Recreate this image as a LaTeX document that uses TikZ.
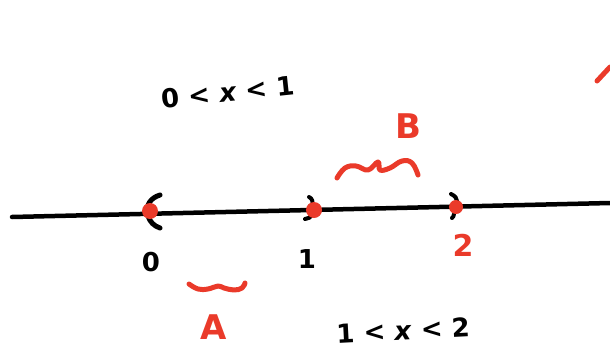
\documentclass[tikz,border=0pt]{standalone}
\usepackage{fontspec}
\setmainfont{DejaVu Sans}
\begin{document}
\begin{tikzpicture}[x=1pt,y=-1pt,
  pen/.style={line width=5pt,line cap=round,line join=round},
  ink/.style={pen,black},
  redink/.style={pen,hred},
  hand/.style={inner sep=0pt,font=\bfseries},
  dotmark/.style={circle,fill=hred,inner sep=0pt,minimum size=16pt}]
\definecolor{hred}{RGB}{234,58,42}
\useasboundingbox (0,0) rectangle (610,351);
% axis
\coordinate (L) at (12,217);
\coordinate (R) at (610,203);
\draw[ink,line width=4.5pt] (L) -- (R);
% brackets
\draw[ink] (160,195) .. controls (150,198) and (146,206) .. (148,211);
\draw[ink] (148,216) .. controls (150,222) and (154,226) .. (160,228);
\draw[ink,line width=4pt] (309,197) .. controls (312,198) and (313,202) .. (313,205);
\draw[ink,line width=4pt] (312,215) .. controls (311,217) and (308,219) .. (305,219);
\draw[ink,line width=4pt] (451,194) .. controls (455,196) and (457,198) .. (457,201);
\draw[ink,line width=4pt] (454,214) .. controls (454,216) and (453,217) .. (452,218);
% dots
\node[dotmark] (d0) at (150,211) {};
\node[dotmark] (d1) at (314,210) {};
\node[dotmark,minimum size=14pt] (d2) at (456,207) {};
% tick labels
\node[hand,font=\bfseries\fontsize{26}{26}\selectfont] (l0) at (151,262) {0};
\node[hand,font=\bfseries\fontsize{26}{26}\selectfont] (l1) at (307,259) {1};
\node[hand,text=hred,font=\bfseries\fontsize{30}{30}\selectfont] (l2) at (463,245) {2};
% inequalities
\node[hand,rotate=6,font=\bfseries\fontsize{26}{26}\selectfont] (ineq1) at (228,92) {0 < \textit{x} < 1};
\node[hand,rotate=3,font=\bfseries\fontsize{26}{26}\selectfont] (ineq2) at (403,330) {1 < \textit{x} < 2};
% set labels
\node[hand,text=hred,font=\bfseries\fontsize{34}{34}\selectfont] (B) at (408,126) {B};
\node[hand,text=hred,font=\bfseries\fontsize{34}{34}\selectfont] (A) at (214,327) {A};
% squiggles
\draw[redink] plot[smooth,tension=0.7] coordinates {(337,178) (345,168) (356,166) (368,170) (378,162) (380,170) (390,168) (402,161) (412,163) (418,175)};
\draw[redink] plot[smooth,tension=0.7] coordinates {(189,284) (198,289) (208,289) (218,286) (224,288) (234,290) (242,288) (245,283)};
% stroke at top right
\draw[redink] (597,81) -- (610,67);
\end{tikzpicture}
\end{document}
